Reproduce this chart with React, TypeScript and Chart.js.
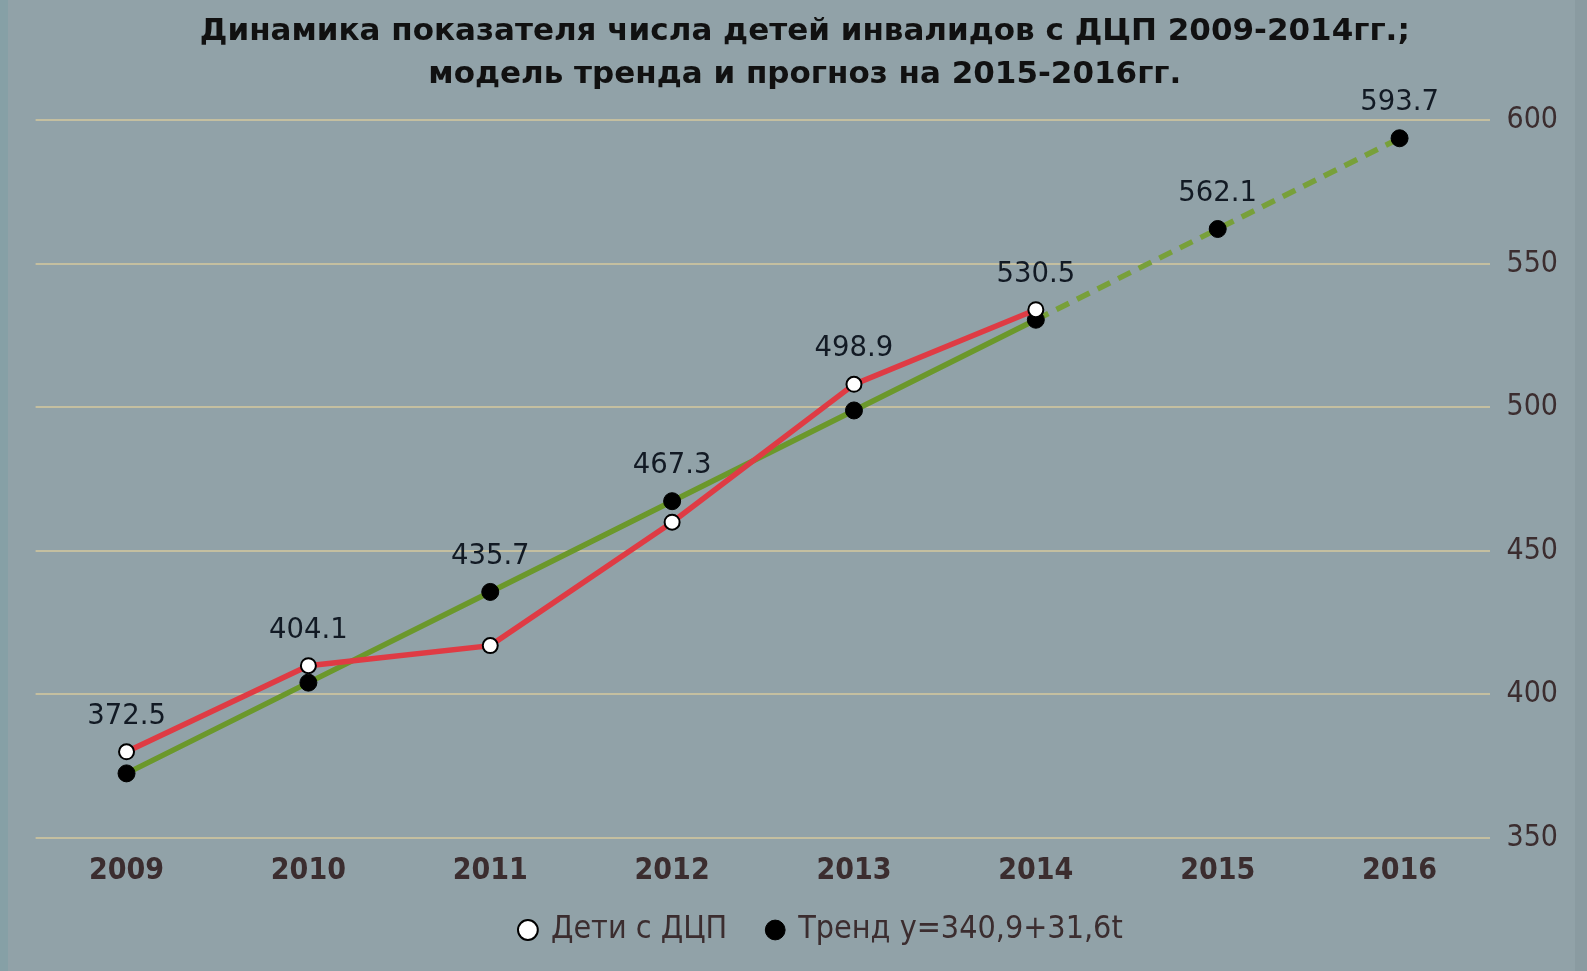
import React, { useEffect, useRef } from "react";
import { Chart, registerables } from "chart.js";

Chart.register(...registerables);

const categories = ["2009", "2010", "2011", "2012", "2013", "2014", "2015", "2016"];
const childrenValues: (number | null)[] = [380, 410, 417, 460, 508, 534, null, null];
const trendValues = [372.5, 404.1, 435.7, 467.3, 498.9, 530.5, 562.1, 593.7];
const trendLabels = ["372.5", "404.1", "435.7", "467.3", "498.9", "530.5", "562.1", "593.7"];
const titleLines = [
  "Динамика показателя числа детей инвалидов с ДЦП 2009-2014гг.;",
  "модель тренда и прогноз на 2015-2016гг.",
];
const seriesNames = ["Дети с ДЦП", "Тренд y=340,9+31,6t"];

const COND = "'DejaVu Sans Condensed', 'Liberation Sans', Arial, sans-serif";
const SANS = "'DejaVu Sans', 'Liberation Sans', Arial, sans-serif";
const TEXT_BROWN = "#3b2d2f";

const labelPlugin = {
  id: "trendLabels",
  afterLayout(chart: any) {
    const lg = chart.legend;
    if (lg) {
      lg.left += 17;
      lg.right += 17;
      lg.top -= 31;
      lg.bottom -= 31;
    }
  },
  afterDatasetsDraw(chart: any) {
    const ctx = chart.ctx;
    const trendMeta = chart.getDatasetMeta(1);
    const redMeta = chart.getDatasetMeta(0);
    ctx.save();
    ctx.font = `27.5px ${SANS}`;
    ctx.fillStyle = "#121a24";
    ctx.textAlign = "center";
    ctx.textBaseline = "middle";
    trendMeta.data.forEach((pt: any, i: number) => {
      let top = pt.y;
      const rp = redMeta.data[i];
      if (rp && childrenValues[i] != null) top = Math.min(top, rp.y);
      ctx.fillText(trendLabels[i], pt.x, top - 35);
    });
    ctx.restore();
  },
};

export default function App() {
  const ref = useRef<HTMLCanvasElement | null>(null);
  useEffect(() => {
    document.body.style.margin = "0";
    const chart = new Chart(ref.current as HTMLCanvasElement, {
      type: "line",
      data: {
        labels: categories,
        datasets: [
          {
            label: seriesNames[0],
            data: childrenValues,
            borderColor: "#df3b44",
            borderWidth: 5.5,
            pointBackgroundColor: "#ffffff",
            pointBorderColor: "#000000",
            pointBorderWidth: 2,
            pointRadius: 7.5,
            tension: 0,
          },
          {
            label: seriesNames[1],
            data: trendValues,
            borderColor: "#6b982b",
            borderWidth: 5.5,
            pointBackgroundColor: "#000000",
            pointBorderColor: "#000000",
            pointBorderWidth: 1,
            pointRadius: 8.5,
            tension: 0,
            segment: {
              borderDash: (c: any) => (c.p0DataIndex >= 5 ? [14, 9] : undefined),
              borderColor: (c: any) => (c.p0DataIndex >= 5 ? "#78a03a" : undefined),
            },
          },
        ],
      },
      options: {
        responsive: false,
        animation: false,
        layout: { padding: { left: 27.6, right: 1, top: 0, bottom: -16 } },
        plugins: {
          title: {
            display: true,
            text: titleLines,
            color: "#111111",
            font: { family: SANS, size: 31, weight: "bold", lineHeight: 1.39 },
            padding: { top: 10, bottom: 24 },
          },
          legend: {
            display: true,
            position: "bottom",
            labels: {
              usePointStyle: true,
              pointStyle: "circle",
              boxWidth: 14,
              boxHeight: 14,
              padding: 41,
              color: TEXT_BROWN,
              font: { family: COND, size: 32 },
            },
          },
          tooltip: { enabled: false },
        },
        scales: {
          x: {
            offset: true,
            grid: { display: false, drawTicks: false },
            border: { display: false },
            ticks: {
              color: TEXT_BROWN,
              font: { family: COND, size: 30, weight: "bold", lineHeight: 0.367 },
              padding: 27.5,
            },
          },
          y: {
            position: "right",
            min: 350,
            max: 600,
            grid: { color: "rgba(214,200,158,0.75)", lineWidth: 2, drawTicks: false },
            border: { display: false },
            ticks: {
              stepSize: 50,
              color: TEXT_BROWN,
              font: { family: COND, size: 30 },
              padding: 16,
            },
          },
        },
      },
      plugins: [labelPlugin],
    });
    return () => chart.destroy();
  }, []);
  return (
    <div
      style={{
        position: "absolute",
        left: 0,
        top: 0,
        width: 1587,
        height: 971,
        background: "#91a2a8",
        borderLeft: "8px solid #86a0a6",
        borderRight: "12px solid #8a9ba1",
        boxSizing: "border-box",
      }}
    >
      <canvas ref={ref} width={1567} height={971} style={{ display: "block" }} />
    </div>
  );
}
